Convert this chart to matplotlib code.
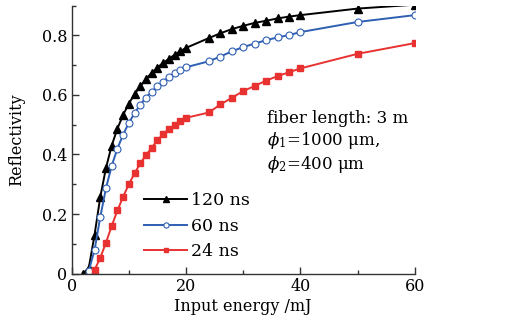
import matplotlib
matplotlib.use("Agg")
import matplotlib.pyplot as plt
from matplotlib.ticker import MultipleLocator

plt.rcParams['font.family'] = ['DejaVu Serif']
plt.rcParams['mathtext.fontset'] = 'dejavuserif'

x_120 = [2, 3, 4, 5, 6, 7, 8, 9, 10, 11, 12, 13, 14, 15, 16, 17, 18, 19, 20,
         24, 26, 28, 30, 32, 34, 36, 38, 40, 50, 60]
y_120 = [0.0, 0.02, 0.13, 0.257, 0.355, 0.43, 0.487, 0.533, 0.571, 0.603, 0.629, 0.654,
         0.674, 0.692, 0.708, 0.721, 0.735, 0.747, 0.758,
         0.791, 0.807, 0.821, 0.832, 0.842, 0.849, 0.857, 0.863, 0.868, 0.89, 0.903]

x_60 = [3, 4, 5, 6, 7, 8, 9, 10, 11, 12, 13, 14, 15, 16, 17, 18, 19, 20,
        24, 26, 28, 30, 32, 34, 36, 38, 40, 50, 60]
y_60 = [0.01, 0.079, 0.19, 0.287, 0.362, 0.42, 0.467, 0.506, 0.539, 0.567, 0.591, 0.611,
        0.629, 0.645, 0.66, 0.673, 0.684, 0.693,
        0.713, 0.729, 0.746, 0.761, 0.772, 0.784, 0.793, 0.801, 0.811, 0.845, 0.868]

x_24 = [4, 5, 6, 7, 8, 9, 10, 11, 12, 13, 14, 15, 16, 17, 18, 19, 20,
        24, 26, 28, 30, 32, 34, 36, 38, 40, 50, 60]
y_24 = [0.012, 0.053, 0.104, 0.16, 0.212, 0.258, 0.3, 0.337, 0.37, 0.398, 0.423, 0.447,
        0.469, 0.485, 0.499, 0.511, 0.523,
        0.541, 0.568, 0.59, 0.613, 0.63, 0.648, 0.663, 0.676, 0.689, 0.738, 0.774]

fig = plt.figure(figsize=(5.31, 3.30), dpi=100)
ax = fig.add_axes([0.135, 0.171, 0.646, 0.812])

ax.plot(x_120, y_120, color='black', lw=1.4, marker='^', ms=5.5, mfc='black', mec='black',
        label='120 ns')
ax.plot(x_60, y_60, color='#2f5fb3', lw=1.4, marker='o', ms=5, mfc='white', mec='#2f5fb3',
        mew=0.8, label='60 ns')
ax.plot(x_24, y_24, color='#e83232', lw=1.4, marker='s', ms=4.5, mfc='#e83232', mec='#e83232',
        label='24 ns')

ax.set_xlim(0, 60)
ax.set_ylim(0, 0.9)
ax.xaxis.set_major_locator(MultipleLocator(20))
ax.xaxis.set_minor_locator(MultipleLocator(10))
ax.yaxis.set_minor_locator(MultipleLocator(0.1))
ax.set_yticks([0, 0.2, 0.4, 0.6, 0.8])
ax.set_yticklabels(['0', '0.2', '0.4', '0.6', '0.8'])

for s in ['top', 'right']:
    ax.spines[s].set_visible(False)
for s in ['left', 'bottom']:
    ax.spines[s].set_linewidth(1.0)
    ax.spines[s].set_color('#333333')

ax.tick_params(which='major', direction='in', length=5, width=1, labelsize=11.5, colors='#333333',
               labelcolor='black', pad=3)
ax.tick_params(which='minor', direction='in', length=3, width=1, colors='#333333')

ax.set_xlabel('Input energy /mJ', fontsize=11.5, labelpad=2)
ax.set_ylabel('Reflectivity', fontsize=11.5, labelpad=12)

leg = ax.legend(loc='lower left', bbox_to_anchor=(0.19, 0.025), frameon=False, fontsize=12.5,
                numpoints=1, handlelength=2.5, handletextpad=0.2, labelspacing=0.48,
                borderaxespad=0, markerscale=0.75)

ax.text(0.57, 0.61, 'fiber length: 3 m\n$\\phi_1$=1000 μm,\n$\\phi_2$=400 μm',
        transform=ax.transAxes, fontsize=12, va='top', ha='left', linespacing=1.2)

fig.savefig('out.png', dpi=100)
